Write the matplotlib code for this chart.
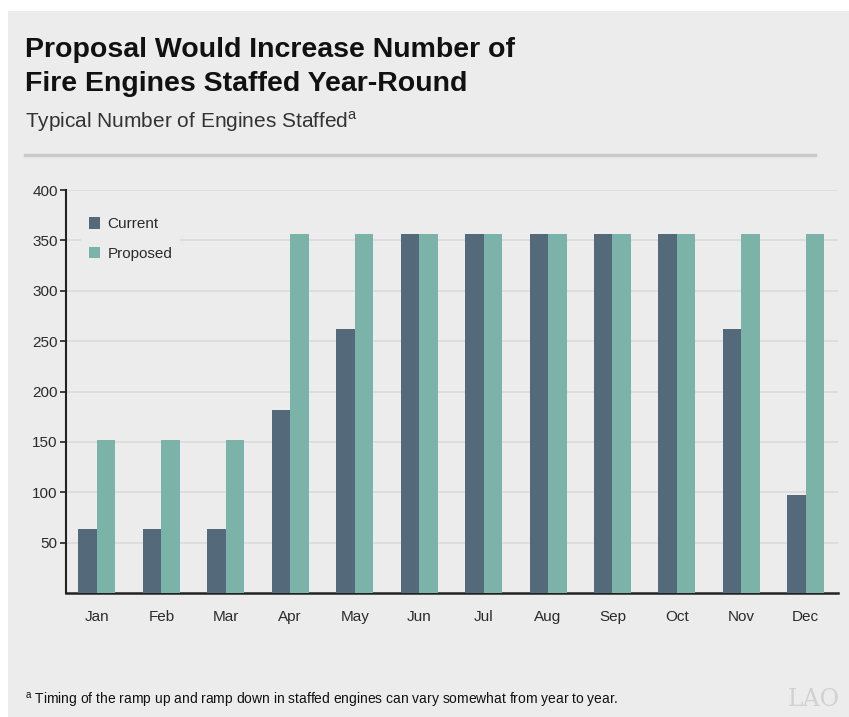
import matplotlib
matplotlib.use("Agg")
import matplotlib.pyplot as plt
import numpy as np
from matplotlib.patches import Rectangle
from matplotlib.lines import Line2D

plt.rcParams["font.family"] = ["Liberation Sans", "DejaVu Sans"]

# Typical number of engines staffed by month
months = ["Jan", "Feb", "Mar", "Apr", "May", "Jun",
          "Jul", "Aug", "Sep", "Oct", "Nov", "Dec"]
current = [64, 64, 64, 182, 262, 356, 356, 356, 356, 356, 262, 97]
proposed = [152, 152, 152, 356, 356, 356, 356, 356, 356, 356, 356, 356]
y_ticks = [50, 100, 150, 200, 250, 300, 350, 400]

BG = "#ebeceb"
DARK = "#546a7b"
TEAL = "#7bb3a9"
TEXT = "#2b2b2b"

fig = plt.figure(figsize=(8.49, 7.17), dpi=100)
fig.patch.set_facecolor("white")

# gray panel behind everything
fig.add_artist(Rectangle((8 / 849, 0), 1 - 8 / 849, 1 - 11 / 717,
                         transform=fig.transFigure, facecolor=BG,
                         edgecolor="none", zorder=0))

fig.text(25 / 849, 1 - 37 / 717,
         "Proposal Would Increase Number of\nFire Engines Staffed Year-Round",
         fontsize=20.5, fontweight="bold", color="#111111",
         ha="left", va="top", linespacing=1.4)
fig.text(25 / 849, 1 - 122 / 717,
         r"Typical Number of Engines Staffed$^{\mathregular{a}}$",
         fontsize=15, color="#333333", ha="left", va="center")
fig.add_artist(Line2D([25 / 849, 815 / 849], [1 - 155 / 717, 1 - 155 / 717],
                      transform=fig.transFigure, color="#c9cac9", lw=2.5))

ax = fig.add_axes([66 / 849, 1 - 593 / 717, (838 - 66) / 849, (593 - 190) / 717])
ax.set_facecolor(BG)

x = np.arange(len(months))
w = 0.287
ax.bar(x - w / 2, current, width=w, color=DARK, label="Current", zorder=3)
ax.bar(x + w / 2, proposed, width=w, color=TEAL, label="Proposed", zorder=3)

ax.set_xlim(-0.48, 11.5)
ax.set_ylim(0, 400)
ax.set_yticks(y_ticks)
ax.set_xticks(x)
ax.set_xticklabels(months)
ax.grid(axis="y", color="#d9dad9", lw=1.2, zorder=0)
ax.tick_params(axis="y", length=4, width=1.2, color="#222222",
               labelsize=11, labelcolor=TEXT, pad=2)
ax.tick_params(axis="x", length=0, labelsize=11, labelcolor=TEXT, pad=12)
for side in ("top", "right"):
    ax.spines[side].set_visible(False)
ax.spines["left"].set_color("#222222")
ax.spines["left"].set_linewidth(1.5)
ax.spines["bottom"].set_color("#222222")
ax.spines["bottom"].set_linewidth(1.8)

leg = ax.legend(loc="upper left", bbox_to_anchor=(0.01, 0.97), frameon=True,
                fontsize=11, handlelength=0.75, handleheight=0.75,
                handletextpad=0.45, labelspacing=1.0, borderpad=0.5)
leg.get_frame().set_facecolor(BG)
leg.get_frame().set_edgecolor("none")
leg.get_frame().set_alpha(1)
for t in leg.get_texts():
    t.set_color(TEXT)

fig.text(25 / 849, 1 - 701 / 717,
         r"$^{\mathregular{a}}$ Timing of the ramp up and ramp down in staffed "
         "engines can vary somewhat from year to year.",
         fontsize=10, color="#111111", ha="left", va="center")
fig.text(788 / 849, 1 - 699 / 717, "LAO", fontsize=17, family="DejaVu Serif",
         color="#d0d1d0", ha="left", va="center")

fig.savefig("out.png", dpi=100, facecolor=fig.get_facecolor())
